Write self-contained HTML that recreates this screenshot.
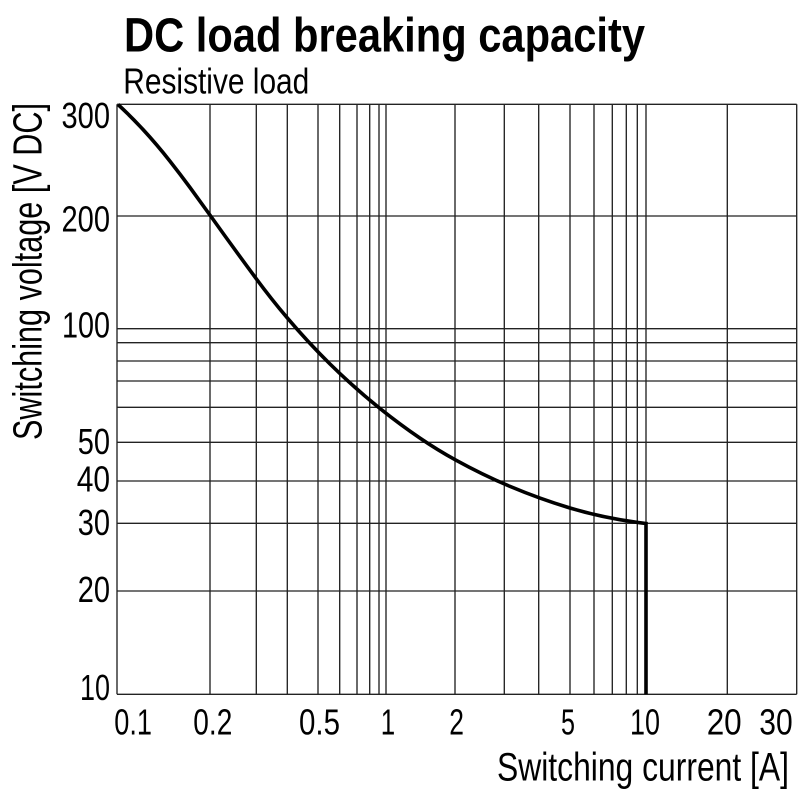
<!DOCTYPE html>
<html>
<head>
<meta charset="utf-8">
<style>
  html,body{margin:0;padding:0;background:#fff;}
  svg{display:block;}
  text{font-family:"Liberation Sans Narrow","Liberation Sans",sans-serif;fill:#000;}
</style>
</head>
<body>
<svg width="800" height="800" viewBox="0 0 800 800" xmlns="http://www.w3.org/2000/svg">
  <rect width="800" height="800" fill="#fff"/>
  <!-- Title -->
  <text x="124" y="51.5" font-size="48" font-weight="bold" textLength="521" lengthAdjust="spacingAndGlyphs">DC load breaking capacity</text>
  <text x="123.3" y="93.3" font-size="36" textLength="186" lengthAdjust="spacingAndGlyphs">Resistive load</text>

  <!-- Grid -->
  <g stroke="#222" stroke-width="1.35" fill="none">
    <line x1="117" y1="104.3" x2="117" y2="694.3"/>
    <line x1="210" y1="104.3" x2="210" y2="694.3"/>
    <line x1="256.3" y1="104.3" x2="256.3" y2="694.3"/>
    <line x1="287.3" y1="104.3" x2="287.3" y2="694.3"/>
    <line x1="318" y1="104.3" x2="318" y2="694.3"/>
    <line x1="339.7" y1="104.3" x2="339.7" y2="694.3"/>
    <line x1="357" y1="104.3" x2="357" y2="694.3"/>
    <line x1="369.7" y1="104.3" x2="369.7" y2="694.3"/>
    <line x1="379" y1="104.3" x2="379" y2="694.3"/>
    <line x1="386" y1="104.3" x2="386" y2="694.3"/>
    <line x1="455" y1="104.3" x2="455" y2="694.3"/>
    <line x1="504.3" y1="104.3" x2="504.3" y2="694.3"/>
    <line x1="538.7" y1="104.3" x2="538.7" y2="694.3"/>
    <line x1="570" y1="104.3" x2="570" y2="694.3"/>
    <line x1="594" y1="104.3" x2="594" y2="694.3"/>
    <line x1="612.3" y1="104.3" x2="612.3" y2="694.3"/>
    <line x1="626.3" y1="104.3" x2="626.3" y2="694.3"/>
    <line x1="637.3" y1="104.3" x2="637.3" y2="694.3"/>
    <line x1="646" y1="104.3" x2="646" y2="694.3"/>
    <line x1="727.3" y1="104.3" x2="727.3" y2="694.3"/>
    <line x1="796.7" y1="104.3" x2="796.7" y2="694.3"/>
    <line x1="117" y1="104.3" x2="796.7" y2="104.3"/>
    <line x1="117" y1="216" x2="796.7" y2="216"/>
    <line x1="117" y1="328.7" x2="796.7" y2="328.7"/>
    <line x1="117" y1="342.7" x2="796.7" y2="342.7"/>
    <line x1="117" y1="361" x2="796.7" y2="361"/>
    <line x1="117" y1="381" x2="796.7" y2="381"/>
    <line x1="117" y1="407.3" x2="796.7" y2="407.3"/>
    <line x1="117" y1="442.3" x2="796.7" y2="442.3"/>
    <line x1="117" y1="481" x2="796.7" y2="481"/>
    <line x1="117" y1="523.3" x2="796.7" y2="523.3"/>
    <line x1="117" y1="591" x2="796.7" y2="591"/>
    <line x1="117" y1="694.3" x2="796.7" y2="694.3"/>
  </g>

  <!-- Curve -->
  <path d="M118,104.5 C126.33,112.17 134.67,120.5 143,129.5 C152,139.22 161,149.77 170,161.2 C176.67,169.67 183.33,178.43 190,187.5 C197,197.02 204,206.7 211,216.5 C226,237.5 241,258.15 256,278.4 C266.33,292.35 276.67,305.41 287,317.6 C301.33,334.51 315.67,349.96 330,364 C346.67,380.33 363.33,395.17 380,408.5 C393.33,419.17 406.67,429.03 420,438.1 C432,446.26 444,453.6 456,460.2 C474,470.1 492,478.84 510,486.4 C530,494.8 550,502 570,508 C595.33,515.6 620.67,520.46 646,523.5 L646,694.3" fill="none" stroke="#000" stroke-width="3.6" stroke-linejoin="miter"/>

  <!-- Y tick labels -->
  <g font-size="36" text-anchor="end">
    <text x="110" y="128" textLength="48.5" lengthAdjust="spacingAndGlyphs">300</text>
    <text x="110" y="231.7" textLength="48.5" lengthAdjust="spacingAndGlyphs">200</text>
    <text x="110" y="337.7" textLength="48" lengthAdjust="spacingAndGlyphs">100</text>
    <text x="110" y="454" textLength="32.3" lengthAdjust="spacingAndGlyphs">50</text>
    <text x="110" y="491.7" textLength="33.3" lengthAdjust="spacingAndGlyphs">40</text>
    <text x="110" y="535" textLength="32.3" lengthAdjust="spacingAndGlyphs">30</text>
    <text x="110" y="602" textLength="32.3" lengthAdjust="spacingAndGlyphs">20</text>
    <text x="110" y="700" textLength="30" lengthAdjust="spacingAndGlyphs">10</text>
  </g>

  <!-- X tick labels -->
  <g font-size="36">
    <text x="114.3" y="734.3" textLength="37.7" lengthAdjust="spacingAndGlyphs">0.1</text>
    <text x="193.3" y="734.3" textLength="39" lengthAdjust="spacingAndGlyphs">0.2</text>
    <text x="299" y="734.3" textLength="41" lengthAdjust="spacingAndGlyphs">0.5</text>
    <text transform="translate(388,734.3) scale(0.72,1)" x="0" y="0" text-anchor="middle">1</text>
    <text x="449.3" y="734.3" textLength="14.7" lengthAdjust="spacingAndGlyphs">2</text>
    <text x="561" y="734.3" textLength="14" lengthAdjust="spacingAndGlyphs">5</text>
    <text x="630" y="734.3" textLength="30" lengthAdjust="spacingAndGlyphs">10</text>
    <text x="706.7" y="734.3" textLength="35" lengthAdjust="spacingAndGlyphs">20</text>
    <text x="759.3" y="734.3" textLength="33.4" lengthAdjust="spacingAndGlyphs">30</text>
  </g>

  <!-- Axis titles -->
  <text x="497" y="780.5" font-size="40" textLength="292" lengthAdjust="spacingAndGlyphs">Switching current [A]</text>
  <text transform="translate(41.7,440) rotate(-90)" x="0" y="0" font-size="41" textLength="337" lengthAdjust="spacingAndGlyphs">Switching voltage [V DC]</text>
</svg>
</body>
</html>
